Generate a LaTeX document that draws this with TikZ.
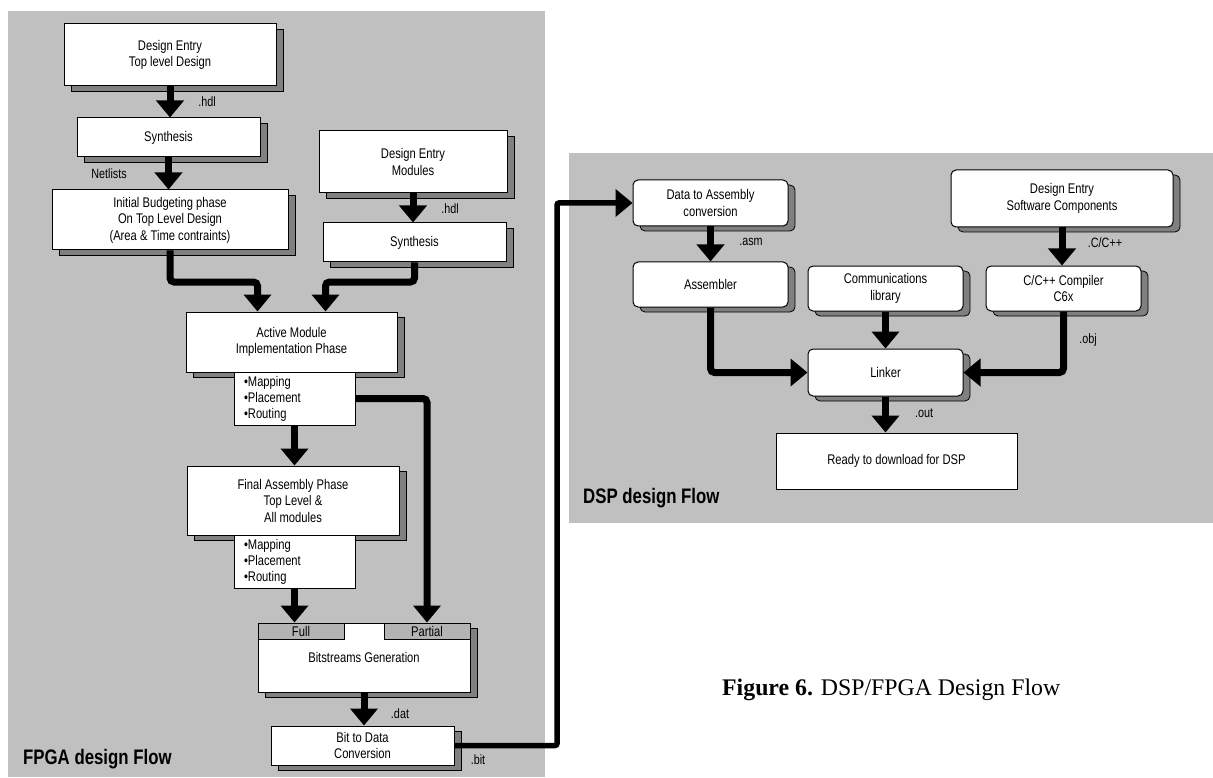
\documentclass[tikz,border=0pt]{standalone}
\usepackage{fontspec}
\setmainfont{Liberation Sans}[FakeStretch=0.8]
\newfontfamily\capfont{Liberation Serif}
\usetikzlibrary{arrows.meta,shadows}
\definecolor{panelgray}{HTML}{C0C0C0}
\definecolor{shadowgray}{HTML}{808080}
\definecolor{tabgray}{HTML}{B4B4B4}

\begin{document}
\begin{tikzpicture}[x=1pt,y=-1pt,
    box/.style={draw, fill=white, line width=1pt, align=center, inner sep=2pt,
      font=\fontsize{14}{16.5}\selectfont,
      drop shadow={shadow xshift=7pt, shadow yshift=-5pt, fill=shadowgray,
        draw=black, line width=0.8pt, opacity=1}},
    rbox/.style={box, rounded corners=5pt},
    plainbox/.style={draw, fill=white, line width=1pt, align=center, inner sep=2pt,
      font=\fontsize{14}{16.5}\selectfont},
    listbox/.style={draw, fill=white, line width=1pt, align=left, text width=101pt,
      inner xsep=10pt, inner ysep=1pt, minimum height=53pt, font=\fontsize{14}{16}\selectfont},
    tab/.style={draw, fill=tabgray, line width=1pt, minimum width=86pt, minimum height=16pt,
      inner sep=0pt, font=\fontsize{14}{15}\selectfont},
    flow/.style={line width=7pt, -{Triangle[length=17pt,width=27pt]}, rounded corners=4pt},
    link/.style={line width=5.5pt, -{Triangle[length=17pt,width=27pt]}, rounded corners=2pt},
    ext/.style={font=\fontsize{13.5}{15}\selectfont, inner sep=0pt},
    flowtitle/.style={anchor=west, inner sep=0pt, font=\fontsize{21}{23}\selectfont\bfseries}]
  \useasboundingbox (0,0) rectangle (1213,778);

  % panels
  \fill[panelgray] (8,11) rectangle (545,777);
  \fill[panelgray] (569,153) rectangle (1213,523);

  % FPGA design flow
  \node[box, minimum width=212pt, minimum height=62pt] (topdesign) at (170,55) {Design Entry\\Top level Design};
  \node[box, minimum width=183pt, minimum height=39pt] (synth) at (168.5,137.5) {Synthesis};
  \node[box, minimum width=236pt, minimum height=60pt] (budget) at (170,220) {Initial Budgeting phase\\On Top Level Design\\(Area \& Time contraints)};
  \node[box, minimum width=188pt, minimum height=62pt] (modules) at (413,162) {Design Entry\\Modules};
  \node[box, minimum width=183pt, minimum height=39pt] (synthmod) at (414.5,242.5) {Synthesis};
  \node[box, minimum width=211pt, minimum height=60pt] (active) at (291.5,342) {Active Module\\Implementation Phase};
  \node[listbox] (mapact) at (294.5,398.5) {\textbullet Mapping\\\textbullet Placement\\\textbullet Routing};
  \node[box, minimum width=212pt, minimum height=69pt] (final) at (293,500.5) {Final Assembly Phase\\Top Level \&\\All modules};
  \node[listbox] (mapfin) at (294.5,561.5) {\textbullet Mapping\\\textbullet Placement\\\textbullet Routing};
  \node[box, minimum width=212pt, minimum height=69pt] (bitgen) at (364,657.5) {Bitstreams Generation};
  \node[tab] (fulltab) at (301,631) {Full};
  \node[tab] (parttab) at (427,631) {Partial};
  \node[box, minimum width=183pt, minimum height=39pt] (bitdata) at (362.5,745.5) {Bit to Data\\Conversion};
  \coordinate (join) at (0,282);
  \coordinate (bend) at (557,0);

  \draw[flow] (topdesign.south) -- (topdesign.south |- synth.north);
  \draw[flow] (synth.south) -- (synth.south |- budget.north);
  \draw[flow] (modules.south) -- (modules.south |- synthmod.north);
  \draw[flow] (budget.south) -- (budget.south |- join) -| ([xshift=-34pt]active.north);
  \draw[flow] (synthmod.south) -- (synthmod.south |- join) -| ([xshift=34pt]active.north);
  \draw[flow] (mapact.south) -- (mapact.south |- final.north);
  \draw[flow] (mapact.east) -| (parttab.north);
  \draw[flow] (mapfin.south) -- (mapfin.south |- fulltab.north);
  \draw[flow] (bitgen.south) -- (bitgen.south |- bitdata.north);

  \node[ext] (hdltop) at (207,102) {.hdl};
  \node[ext] (netlists) at (109,174) {Netlists};
  \node[ext] (hdlmod) at (450,209) {.hdl};
  \node[ext] (dat) at (400,714) {.dat};
  \node[ext] (bit) at (478,760) {.bit};
  \node[flowtitle] (fpgatitle) at (23,759) {FPGA design Flow};

  % DSP design flow
  \node[rbox, minimum width=155pt, minimum height=46pt] (dataasm) at (710.5,203) {Data to Assembly\\conversion};
  \node[rbox, minimum width=155pt, minimum height=45pt] (assembler) at (710.5,284.5) {Assembler};
  \node[rbox, minimum width=155pt, minimum height=45pt] (commlib) at (885.5,288.5) {Communications\\library};
  \node[rbox, minimum width=222pt, minimum height=57pt] (swentry) at (1062,198.5) {Design Entry\\Software Components};
  \node[rbox, minimum width=155pt, minimum height=45pt] (compiler) at (1063.5,288.5) {C/C++ Compiler\\C6x};
  \node[rbox, minimum width=155pt, minimum height=47pt] (linker) at (885.5,372.5) {Linker};
  \node[plainbox, minimum width=241pt, minimum height=56pt] (ready) at (896.5,461) {Ready to download for DSP};

  \draw[flow] (dataasm.south) -- (dataasm.south |- assembler.north);
  \draw[flow] (swentry.south) -- (swentry.south |- compiler.north);
  \draw[flow] (commlib.south) -- (commlib.south |- linker.north);
  \draw[flow] (assembler.south) |- (linker.west);
  \draw[flow] (compiler.south) |- (linker.east);
  \draw[flow] (linker.south) -- (linker.south |- ready.north);

  \node[ext] (asm) at (751,242) {.asm};
  \node[ext] (csrc) at (1105,243) {.C/C++};
  \node[ext] (obj) at (1088,340) {.obj};
  \node[ext] (out) at (924,413) {.out};
  \node[flowtitle] (dsptitle) at (583,498) {DSP design Flow};

  % bit file to DSP
  \draw[link] (bitdata.east) -- (bitdata.east -| bend) -- (bend |- dataasm.west) -- (dataasm.west);

  \node[anchor=base west, inner sep=0pt, font=\capfont\fontsize{23.8}{26}\selectfont] (caption) at (722,695) {\textbf{Figure 6.} DSP/FPGA Design Flow};
\end{tikzpicture}
\end{document}
